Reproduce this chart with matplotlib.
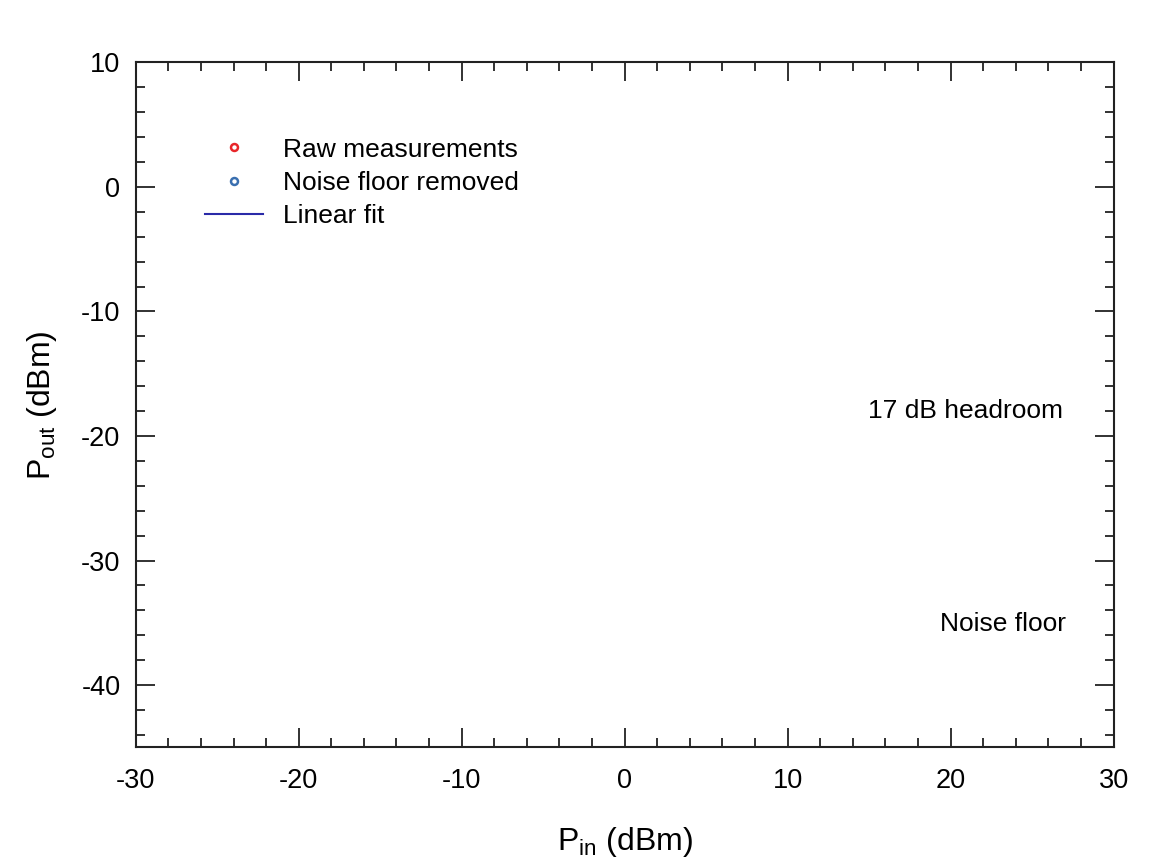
import matplotlib
matplotlib.use("Agg")
import matplotlib.pyplot as plt
from matplotlib.ticker import MultipleLocator

plt.rcParams['font.family'] = ['Liberation Sans', 'DejaVu Sans']
plt.rcParams['mathtext.fontset'] = 'custom'
plt.rcParams['mathtext.rm'] = 'Liberation Sans'
plt.rcParams['mathtext.it'] = 'Liberation Sans'
plt.rcParams['axes.unicode_minus'] = False

# Daten (im Original nicht sichtbar -> leere Serien, nur Legende)
raw_pin = []
raw_pout = []
clean_pin = []
clean_pout = []
fit_pin = []
fit_pout = []

x_lim = (-30, 30)
y_lim = (-45, 10)
x_ticks = [-30, -20, -10, 0, 10, 20, 30]
y_ticks = [-40, -30, -20, -10, 0, 10]

notes = ["17 dB headroom", "Noise floor"]
note_x = [26.9, 27.1]
note_y = [-18.0, -35.1]

fig = plt.figure(figsize=(11.6, 8.66), dpi=100)
ax = fig.add_axes([0.117, 0.137, 0.843, 0.791])

ax.plot(raw_pin, raw_pout, 'o', ms=5, mfc='none', mec='#e8262a', mew=1.8,
        label='Raw measurements')
ax.plot(clean_pin, clean_pout, 'o', ms=5, mfc='none', mec='#3a6fb0', mew=1.8,
        label='Noise floor removed')
ax.plot(fit_pin, fit_pout, '-', color='#2a2aa8', lw=1.5, label='Linear fit')

ax.set_xlim(*x_lim)
ax.set_ylim(*y_lim)
ax.set_xticks(x_ticks)
ax.set_yticks(y_ticks)
ax.xaxis.set_minor_locator(MultipleLocator(2))
ax.yaxis.set_minor_locator(MultipleLocator(2))
ax.tick_params(which='both', direction='in', top=True, right=True,
               width=1.3, labelsize=19.5, color='#222222')
ax.tick_params(axis='x', which='major', length=14, pad=15)
ax.tick_params(axis='y', which='major', length=14, pad=11)
ax.tick_params(which='minor', length=6.5)
for s in ax.spines.values():
    s.set_linewidth(1.5)
    s.set_color('#222222')

ax.set_xlabel(r'P$_{\mathrm{in}}$ (dBm)', fontsize=23, labelpad=22)
ax.set_ylabel(r'P$_{\mathrm{out}}$ (dBm)', fontsize=23, labelpad=16)

for t, x, y in zip(notes, note_x, note_y):
    ax.text(x, y, t, ha='right', va='center', fontsize=19)

ax.legend(loc='upper left', bbox_to_anchor=(0.0706, 0.89), frameon=False,
          fontsize=19, handlelength=2.2, handletextpad=0.75,
          labelspacing=0.35, borderaxespad=0, borderpad=0)

fig.savefig('out.png', dpi=100)
